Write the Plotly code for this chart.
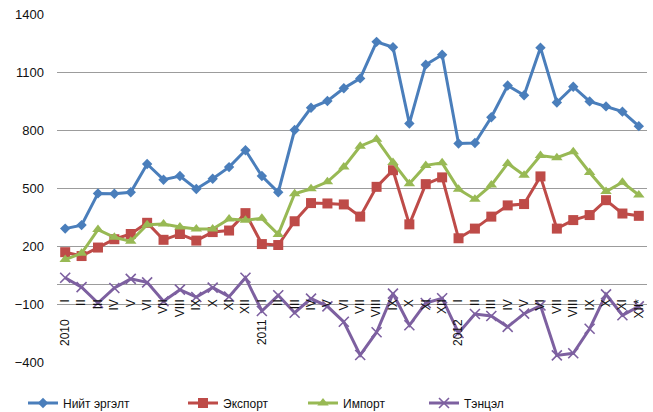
import plotly.graph_objects as go

# Monthly foreign trade, million USD, 2010 I - 2012 XII*
periods = [f"{y}-{m:02d}" for y in (2010, 2011, 2012) for m in range(1, 13)]
month_labels = ["I", "II", "III", "IV", "V", "VI", "VII", "VIII", "IX", "X", "XI", "XII"]
tick_labels = []
for y in ("2010", "2011", "2012"):
    for i, m in enumerate(month_labels):
        tick_labels.append(y + "\u00a0" * 5 + m if i == 0 else m)
tick_labels[-1] = "XII*"

total_turnover = [290, 308, 472, 470, 478, 624, 543, 562, 495, 548, 608, 695,
                  562, 478, 800, 915, 950, 1016, 1067, 1256, 1228, 834, 1138, 1189,
                  730, 733, 866, 1030, 980, 1226, 942, 1024, 948, 922, 895, 820]
exports = [168, 148, 192, 235, 262, 320, 232, 262, 228, 272, 280, 370,
           210, 205, 328, 422, 420, 415, 352, 506, 592, 312, 520, 555,
           240, 290, 352, 410, 417, 560, 290, 334, 360, 437, 368, 356]
imports = [130, 162, 285, 245, 224, 310, 314, 298, 288, 288, 340, 333,
           343, 260, 470, 496, 532, 608, 716, 752, 632, 522, 617, 630,
           494, 442, 515, 627, 566, 668, 657, 688, 580, 482, 530, 464]
balance = [36, -13, -95, -17, 30, 12, -86, -26, -64, -15, -62, 36,
           -136, -55, -145, -72, -112, -192, -364, -246, -46, -210, -95, -70,
           -250, -152, -162, -218, -150, -108, -366, -355, -228, -50, -158, -112]

W, H = 653, 412
series = [
    ("Нийт эргэлт", total_turnover, "#4A7EBB", "diamond", 8, "legend", 23),
    ("Экспорт", exports, "#BE4B48", "square", 10, "legend2", 183),
    ("Импорт", imports, "#98B954", "triangle-up", 10, "legend3", 303),
    ("Тэнцэл", balance, "#7D60A0", "x-thin", 10, "legend4", 424),
]

fig = go.Figure()
legend_layouts = {}
for name, vals, color, symbol, size, leg, lx in series:
    marker = dict(symbol=symbol, size=size, color=color)
    if symbol == "x-thin":
        marker["line"] = dict(color=color, width=1.6)
    fig.add_trace(go.Scatter(
        x=periods, y=vals, name=name, mode="lines+markers",
        line=dict(color=color, width=3), marker=marker, legend=leg,
    ))
    legend_layouts[leg] = dict(
        x=lx / W, y=1 - 403 / H, xref="container", yref="container",
        xanchor="left", yanchor="middle", orientation="h",
        bgcolor="rgba(0,0,0,0)", borderwidth=0,
        font=dict(family="Liberation Sans, Arial, sans-serif", size=12, color="#111"),
        itemwidth=30,
    )

fig.update_layout(
    width=W, height=H,
    margin=dict(l=57, r=6, t=14, b=50, autoexpand=False),
    paper_bgcolor="white", plot_bgcolor="white",
    showlegend=True,
    font=dict(family="Liberation Sans, Arial, sans-serif", size=13, color="#111"),
    **legend_layouts,
)

fig.update_yaxes(
    range=[-400, 1400], tick0=-400, dtick=300,
    showgrid=True, gridcolor="#9c9c9c", gridwidth=1,
    zeroline=True, zerolinecolor="#9c9c9c", zerolinewidth=1.4,
    showline=False, ticks="", ticklabelstandoff=12,
    tickfont=dict(size=13, color="#111"),
)
fig.update_xaxes(
    type="category", range=[-0.5, len(periods) - 0.5],
    tickmode="array", tickvals=periods, ticktext=tick_labels,
    tickangle=-90, anchor="free", position=0.19,
    showgrid=False, zeroline=False, showline=False, ticks="",
    tickfont=dict(size=12, color="#111"),
)

fig.write_html("out.html")
